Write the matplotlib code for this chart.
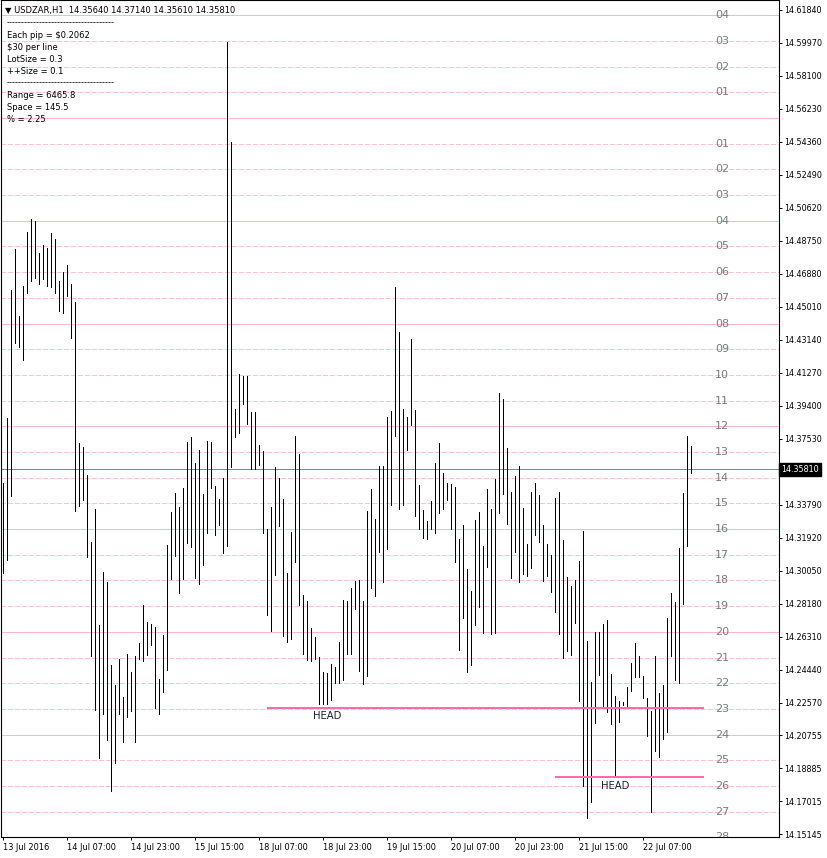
import matplotlib
matplotlib.use("Agg")
import matplotlib.pyplot as plt
import numpy as np

W, H = 827, 858

symbol = "USDZAR,H1"
last_ohlc = [14.35640, 14.37140, 14.35610, 14.35810]
info_lines = [
    "------------------------------------",
    "Each pip = $0.2062",
    "$30 per line",
    "LotSize = 0.3",
    "++Size = 0.1",
    "------------------------------------",
    "Range = 6465.8",
    "Space = 145.5",
    "% = 2.25",
]

# hourly bars, high / low
highs = [
    14.3502, 14.3871, 14.4598, 14.4826, 14.4446, 14.4619, 14.4923, 14.4999, 14.4988, 14.4804,
    14.4852, 14.4836, 14.4919, 14.4886, 14.4646, 14.4695, 14.4739, 14.4630, 14.4526, 14.3730,
    14.3709, 14.3550, 14.3166, 14.3355, 14.2700, 14.2999, 14.2943, 14.2472, 14.2357, 14.2505,
    14.2288, 14.2537, 14.2435, 14.2522, 14.2596, 14.2813, 14.2715, 14.2704, 14.2685, 14.2392,
    14.2641, 14.3151, 14.3340, 14.3444, 14.3368, 14.3472, 14.3733, 14.3763, 14.3614, 14.3690,
    14.3442, 14.3740, 14.3733, 14.3485, 14.3412, 14.3530, 14.6002, 14.5433, 14.3922, 14.4119,
    14.4107, 14.4107, 14.3902, 14.3902, 14.3720, 14.3682, 14.3240, 14.3366, 14.3594, 14.3530,
    14.3412, 14.2992, 14.3227, 14.3770, 14.3664, 14.2866, 14.2835, 14.2684, 14.2633, 14.2520,
    14.2431, 14.2426, 14.2477, 14.2461, 14.2603, 14.2840, 14.2835, 14.2906, 14.2950, 14.2953,
    14.2834, 14.3344, 14.3469, 14.3299, 14.3599, 14.3599, 14.3878, 14.3910, 14.4614, 14.4358,
    14.3920, 14.3878, 14.4318, 14.3916, 14.3491, 14.3350, 14.3289, 14.3402, 14.3618, 14.3731,
    14.3561, 14.3504, 14.3497, 14.3482, 14.3185, 14.3265, 14.3016, 14.2891, 14.3293, 14.3336,
    14.3146, 14.3469, 14.3355, 14.3525, 14.4010, 14.3978, 14.3699, 14.3454, 14.3542, 14.3599,
    14.3359, 14.3157, 14.3450, 14.3501, 14.3435, 14.3265, 14.3157, 14.3095, 14.3420, 14.3450,
    14.3180, 14.2972, 14.2919, 14.2953, 14.3061, 14.3231, 14.2608, 14.2374, 14.2657, 14.2657,
    14.2702, 14.2727, 14.2421, 14.2296, 14.2270, 14.2260, 14.2345, 14.2481, 14.2595, 14.2523,
    14.2410, 14.2283, 14.2213, 14.2523, 14.2312, 14.2359, 14.2736, 14.2878, 14.2831, 14.3133,
    14.3444, 14.3769, 14.3714,
]
lows = [
    14.2993, 14.3069, 14.3427, 14.4294, 14.4272, 14.4197, 14.4576, 14.4646, 14.4663, 14.4630,
    14.4656, 14.4619, 14.4613, 14.4576, 14.4474, 14.4468, 14.4561, 14.4322, 14.3346, 14.3372,
    14.3409, 14.3086, 14.2522, 14.2218, 14.1945, 14.2197, 14.2049, 14.1756, 14.1919, 14.2197,
    14.2038, 14.2179, 14.2212, 14.2038, 14.2505, 14.2494, 14.2526, 14.2587, 14.2227, 14.2197,
    14.2320, 14.2446, 14.2960, 14.3090, 14.2878, 14.2957, 14.3164, 14.3139, 14.2967, 14.2931,
    14.3038, 14.3220, 14.3477, 14.3209, 14.3265, 14.3108, 14.3144, 14.3594, 14.3765, 14.3783,
    14.3952, 14.3834, 14.3581, 14.3581, 14.3606, 14.3220, 14.2755, 14.2664, 14.2982, 14.3260,
    14.2638, 14.2603, 14.2621, 14.3058, 14.2810, 14.2537, 14.2502, 14.2494, 14.2507, 14.2249,
    14.2249, 14.2249, 14.2274, 14.2368, 14.2368, 14.2386, 14.2537, 14.2537, 14.2787, 14.2440,
    14.2366, 14.2410, 14.2906, 14.2864, 14.3114, 14.2944, 14.3127, 14.3378, 14.3771, 14.3353,
    14.3378, 14.3689, 14.3831, 14.3316, 14.3242, 14.3193, 14.3185, 14.3242, 14.3221, 14.3335,
    14.3355, 14.3406, 14.3242, 14.3053, 14.2556, 14.2740, 14.2432, 14.2472, 14.2698, 14.2802,
    14.2651, 14.3029, 14.2646, 14.2655, 14.3335, 14.3440, 14.3270, 14.2966, 14.3114, 14.2944,
    14.2987, 14.2978, 14.3023, 14.3208, 14.3170, 14.2948, 14.2978, 14.2887, 14.2774, 14.2648,
    14.2513, 14.2553, 14.2529, 14.2708, 14.2270, 14.1789, 14.1607, 14.1698, 14.2145, 14.2415,
    14.2242, 14.2208, 14.2136, 14.1836, 14.2147, 14.2245, 14.2236, 14.2327, 14.2402, 14.2402,
    14.2283, 14.2072, 14.1641, 14.1987, 14.1953, 14.2051, 14.2094, 14.2523, 14.2387, 14.2368,
    14.2817, 14.3148, 14.3561,
]

date_labels = ["13 Jul 2016", "14 Jul 07:00", "14 Jul 23:00", "15 Jul 15:00", "18 Jul 07:00",
               "18 Jul 23:00", "19 Jul 15:00", "20 Jul 07:00", "20 Jul 23:00", "21 Jul 15:00",
               "22 Jul 07:00"]
bars_per_label = 16

price_ticks = [14.61840, 14.59970, 14.58100, 14.56230, 14.54360, 14.52490, 14.50620, 14.48750,
               14.46880, 14.45010, 14.43140, 14.41270, 14.39400, 14.37530, 14.33790, 14.31920,
               14.30050, 14.28180, 14.26310, 14.24440, 14.22570, 14.20755, 14.18885, 14.17015,
               14.15145]
current_price = 14.35810

# "per line" levels
base_level = 14.55696
line_space = 0.01455
lines_above = 4
lines_below = 28

head_levels = [14.2230, 14.1836]
head_start_bars = [66, 138]
head_end_bar = 175.2

PINK = "#ffc0cb"
PINK_SOLID = "#ffb6c1"
HOTPINK = "#ff69b4"


def fig_xy(x, y):
    """pixel (from top-left) -> figure fraction"""
    return x / W, 1 - y / H


fig = plt.figure(figsize=(W / 100, H / 100), dpi=100)
ax = fig.add_axes([1 / W, 1 - 837 / H, 778 / W, 837 / H])

n = len(highs)
ax.set_xlim(-0.575, 193.925)
ax.set_ylim(14.14979, 14.62378)

# level lines
for k in range(lines_above, -lines_below - 1, -1):
    lvl = base_level + k * line_space
    if k % 4 == 0:
        ax.axhline(lvl, color=PINK_SOLID, lw=0.5, zorder=1, antialiased=False)
    else:
        ax.axhline(lvl, color=PINK, lw=0.5, ls=(0, (7, 4)), zorder=1, antialiased=False)
    if k != 0:
        ax.text(0.9265, lvl, f"{abs(k):02d}", transform=ax.get_yaxis_transform(),
                ha="center", va="center", fontsize=8, color="#7a7a7a", zorder=2,
                clip_on=True)

ax.axhline(current_price, color="#778899", lw=0.5, zorder=2, antialiased=False)

# bars
ax.vlines(np.arange(n), lows, highs, color="black", lw=0.5, zorder=3, antialiased=False)

# HEAD levels
for lvl, start in zip(head_levels, head_start_bars):
    ax.hlines(lvl, start, head_end_bar, color=HOTPINK, lw=1.2, zorder=4, antialiased=False)
    ax.annotate("HEAD", xy=(start + 15, lvl), xytext=(0, -6), textcoords="offset points",
                ha="center", va="center", fontsize=7.2, color="#1c1c3a", zorder=5)

# axes
for s in ax.spines.values():
    s.set_linewidth(0.8)
    s.set_color("black")
ax.yaxis.tick_right()
ax.set_yticks(price_ticks)
ax.set_yticklabels([f"{p:.5f}" for p in price_ticks])
ax.tick_params(axis="y", direction="out", length=2.5, width=0.7, pad=1.5, labelsize=5.8)
ax.set_xticks(np.arange(0, n, bars_per_label)[:len(date_labels)])
ax.set_xticklabels(date_labels, ha="left")
ax.tick_params(axis="x", direction="out", length=2.5, width=0.7, pad=2, labelsize=5.9)

# current price box
ax.text(1.003, current_price, f"{current_price:.5f}", transform=ax.get_yaxis_transform(),
        ha="left", va="center", fontsize=5.8, color="white", zorder=6, clip_on=False,
        bbox=dict(boxstyle="square,pad=0.25", fc="black", ec="black"))

# header and info block
header = "\u25bc " + symbol + "  " + " ".join(f"{v:.5f}" for v in last_ohlc)
fig.text(*fig_xy(5, 10), header, fontsize=6, va="center", ha="left")
for j, line in enumerate(info_lines):
    fig.text(*fig_xy(7, 23 + 12 * j), line, fontsize=6, va="center", ha="left")

fig.savefig("out.png", dpi=100, facecolor="white")
